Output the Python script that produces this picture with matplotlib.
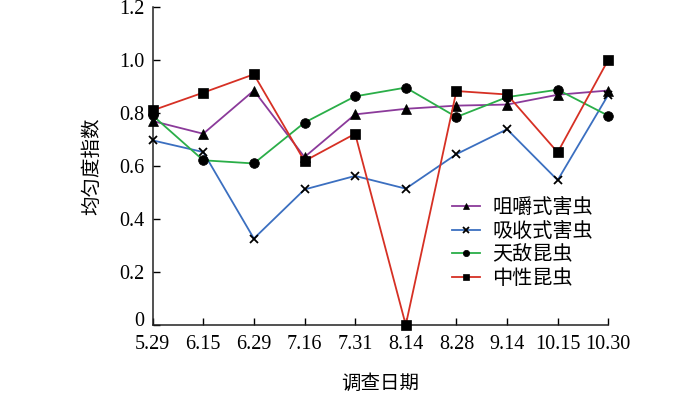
import matplotlib
matplotlib.use("Agg")
import matplotlib.pyplot as plt
import matplotlib.transforms as mtransforms
import numpy as np

plt.rcParams["font.family"] = ["Liberation Serif", "Noto Sans CJK SC", "DejaVu Sans"]

DATES = ["5.29", "6.15", "6.29", "7.16", "7.31", "8.14", "8.28", "9.14", "10.15", "10.30"]
JUJUE = [0.769, 0.721, 0.884, 0.633, 0.794, 0.815, 0.827, 0.831, 0.868, 0.884]   # 咀嚼式害虫
XISHOU = [0.696, 0.652, 0.326, 0.511, 0.562, 0.514, 0.644, 0.738, 0.546, 0.868]  # 吸收式害虫
TIANDI = [0.790, 0.621, 0.609, 0.763, 0.862, 0.895, 0.784, 0.859, 0.887, 0.789]  # 天敌昆虫
ZHONGXING = [0.809, 0.876, 0.945, 0.618, 0.721, 0.0, 0.882, 0.869, 0.651, 1.0]   # 中性昆虫

SERIES = [
    ("咀嚼式害虫", JUJUE, "#8B3A9A", "^", 7),
    ("吸收式害虫", XISHOU, "#3B6FC0", "x", 6),
    ("天敌昆虫", TIANDI, "#2AAE48", "o", 7),
    ("中性昆虫", ZHONGXING, "#D63024", "s", 7),
]

fig = plt.figure(figsize=(7, 3.93), dpi=100)
ax = fig.add_axes([0.218, 0.173, 0.651, 0.810])
x = np.arange(len(DATES))
for name, vals, col, mk, ms in SERIES:
    ax.plot(x, vals, color=col, lw=1.3, marker=mk, ms=ms, mfc="black", mec="black",
            mew=1.3 if mk == "x" else 0.5, label=name, clip_on=False, zorder=3)

ax.set_xlim(0, 9)
ax.set_ylim(0, 1.2)
ax.set_xticks(x)
ax.set_xticklabels(DATES)
ax.set_yticks([0, 0.2, 0.4, 0.6, 0.8, 1.0, 1.2])
ax.set_yticklabels(["0", "0.2", "0.4", "0.6", "0.8", "1.0", "1.2"])
for s in ("top", "right"):
    ax.spines[s].set_visible(False)
for s in ("left", "bottom"):
    ax.spines[s].set_linewidth(1.1)
    ax.spines[s].set_color("#222")
ax.tick_params(direction="in", length=5, width=1.0, labelsize=14.5, pad=6)
ax.tick_params(axis="x", pad=7)
ax.set_xlabel("调查日期", fontsize=14, labelpad=15)
ax.set_ylabel("均匀度指数", fontsize=14, labelpad=13)

# "0" sits a bit above the axis line, clear of the first date label
zero = ax.get_yticklabels()[0]
zero.set_transform(zero.get_transform() +
                   mtransforms.ScaledTranslation(0, 4 / 72, fig.dpi_scale_trans))

leg = ax.legend(loc="upper left", bbox_to_anchor=(434 / 700, 1 - 181 / 393),
                bbox_transform=fig.transFigure, frameon=False, fontsize=14.5,
                handlelength=1.4, handletextpad=0.6, labelspacing=0.22,
                markerscale=0.65)

fig.savefig("out.png", dpi=100)
